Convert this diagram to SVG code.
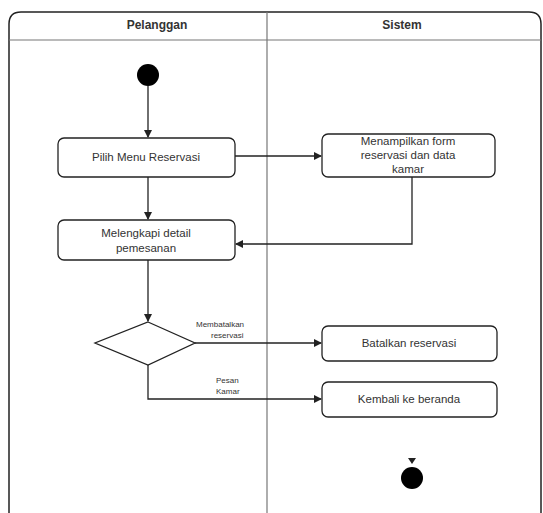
<svg xmlns="http://www.w3.org/2000/svg" width="543" height="513" viewBox="0 0 543 513">
<style>
.t{font-family:"Liberation Sans",Arial,sans-serif;font-size:11.5px;fill:#333;text-anchor:middle}
.h{font-family:"Liberation Sans",Arial,sans-serif;font-size:12px;font-weight:bold;fill:#333;text-anchor:middle}
.s{font-family:"Liberation Sans",Arial,sans-serif;font-size:8px;fill:#333}
.box{fill:#fff;stroke:#222;stroke-width:1.3}
.ln{fill:none;stroke:#222;stroke-width:1.3}
</style>
<defs>
<marker id="a" markerWidth="8" markerHeight="8" refX="7" refY="4" orient="auto" markerUnits="userSpaceOnUse">
<path d="M0,0 L8,4 L0,8 Z" fill="#222"/>
</marker>
</defs>
<rect width="543" height="513" fill="#fff"/>
<g id="frame">
<path d="M9,525 L9,24 Q9,12 21,12 L529,12 Q541,12 541,24 L541,525" fill="none" stroke="#222" stroke-width="1.5"/>
<line x1="9" y1="40" x2="541" y2="40" stroke="#777" stroke-width="1.2"/>
<line x1="267" y1="12" x2="267" y2="513" stroke="#777" stroke-width="1.2"/>
<text class="h" x="157" y="29">Pelanggan</text>
<text class="h" x="402" y="29">Sistem</text>
</g>
<g id="connectors">
<line class="ln" x1="148" y1="86" x2="148" y2="137" marker-end="url(#a)"/>
<line class="ln" x1="235" y1="156" x2="321" y2="156" marker-end="url(#a)"/>
<line class="ln" x1="148" y1="177" x2="148" y2="219" marker-end="url(#a)"/>
<polyline class="ln" points="412,177 412,244 236,244" marker-end="url(#a)"/>
<line class="ln" x1="148" y1="260" x2="148" y2="321" marker-end="url(#a)"/>
<line class="ln" x1="195" y1="343" x2="321" y2="343" marker-end="url(#a)"/>
<polyline class="ln" points="148,365 148,399 321,399" marker-end="url(#a)"/>
<text class="s" x="196" y="327">Membatalkan</text>
<text class="s" x="211" y="338">reservasi</text>
<text class="s" x="216" y="383">Pesan</text>
<text class="s" x="216" y="394">Kamar</text>
</g>
<g id="start"><circle cx="148" cy="75" r="11" fill="#000"/></g>
<g id="pilih">
<rect class="box" x="58" y="138" width="177" height="39" rx="6"/>
<text class="t" x="146" y="161">Pilih Menu Reservasi</text>
</g>
<g id="menampilkan">
<rect class="box" x="322" y="134" width="173" height="43" rx="6"/>
<text class="t" x="408" y="145">Menampilkan form</text>
<text class="t" x="408" y="159">reservasi dan data</text>
<text class="t" x="408" y="173">kamar</text>
</g>
<g id="melengkapi">
<rect class="box" x="58" y="220" width="177" height="40" rx="6"/>
<text class="t" x="146" y="237">Melengkapi detail</text>
<text class="t" x="146" y="252">pemesanan</text>
</g>
<g id="decision">
<polygon class="box" points="148,322 195,343 148,365 95,343"/>
</g>
<g id="batalkan">
<rect class="box" x="322" y="326" width="175" height="35" rx="6"/>
<text class="t" x="409" y="347">Batalkan reservasi</text>
</g>
<g id="kembali">
<rect class="box" x="322" y="382" width="175" height="35" rx="6"/>
<text class="t" x="409" y="403">Kembali ke beranda</text>
</g>
<g id="end">
<path d="M408,458 L416,458 L412,464 Z" fill="#222"/>
<circle cx="412" cy="478" r="11" fill="#000"/>
</g>
</svg>
